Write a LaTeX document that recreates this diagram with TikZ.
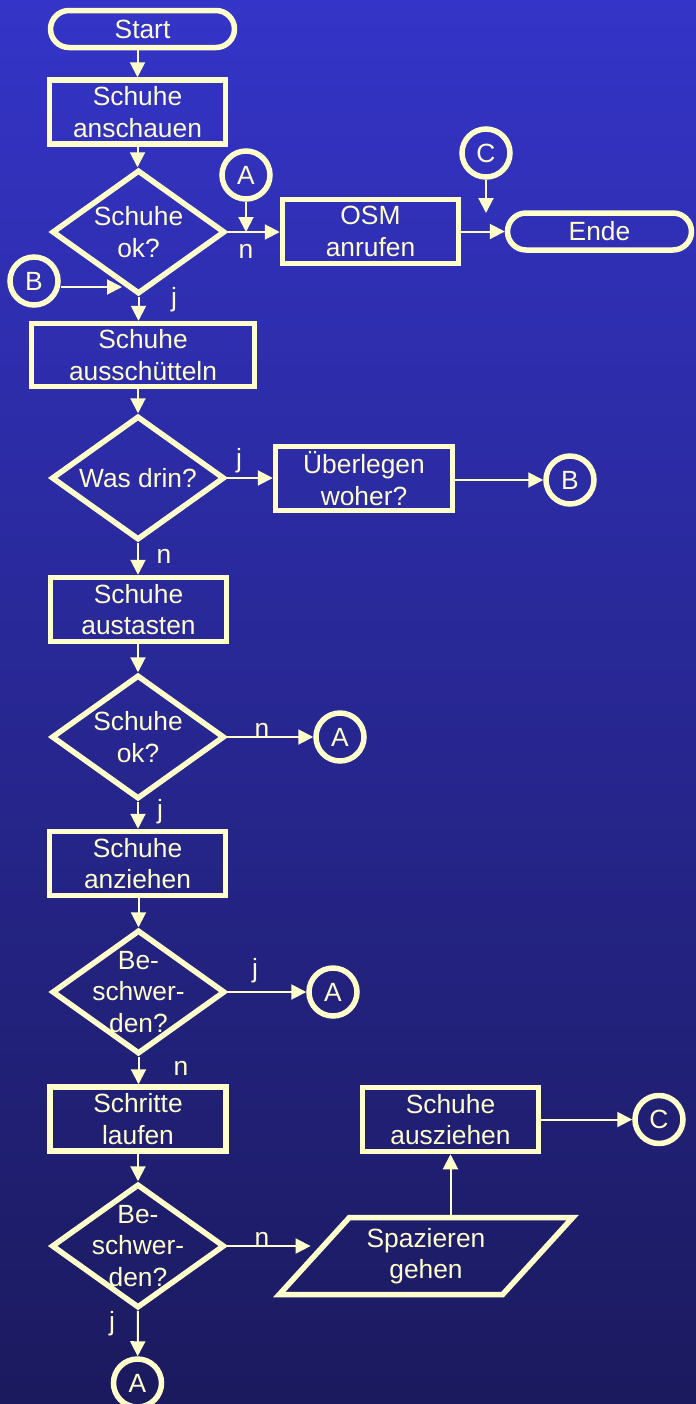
\documentclass[tikz,border=0pt]{standalone}
\usepackage{fontspec}
\setmainfont{Liberation Sans}
\usetikzlibrary{shapes.geometric,arrows.meta}

\definecolor{cream}{HTML}{FFFFCC}
\definecolor{bgtop}{HTML}{3434C8}
\definecolor{bgbot}{HTML}{1B1A5E}

\tikzset{
	chart/.style={draw=cream, line width=0.11cm, text=cream, font=\fontsize{15}{18}\selectfont, align=center, inner sep=0pt},
	terminal/.style={chart, rectangle, rounded corners=0.37cm, minimum width=3.68cm, minimum height=0.74cm},
	procbox/.style={chart, rectangle, minimum width=3.52cm, minimum height=1.28cm},
	decision/.style={chart, diamond, aspect=1.4, inner xsep=-0.1cm, inner ysep=-0.35cm, minimum width=3.46cm, minimum height=2.48cm},
	connector/.style={chart, circle, minimum size=0.96cm},
	iobox/.style={chart, trapezium, trapezium left angle=46, trapezium right angle=134, trapezium stretches=true, minimum width=5.88cm, minimum height=1.54cm},
	flow/.style={draw=cream, line width=0.04cm, -{Triangle[length=0.3cm,width=0.3cm]}},
	answer/.style={text=cream, font=\fontsize{15}{18}\selectfont, inner sep=0pt}
}

\begin{document}
\begin{tikzpicture}[x=0.02cm, y=-0.02cm]
	%%%%% START %%%%%
	
	\useasboundingbox (0, 0) rectangle (696, 1404);
	\shade[top color=bgtop, bottom color=bgbot] (0, 0) rectangle (696, 1404);
	
	\node[terminal] (start) at (142.5, 29) {Start};
	\node[procbox] (schau) at (137.5, 112) {Schuhe\\anschauen};
	\node[decision] (ok1) at (138.5, 232) {Schuhe\\ok?};
	\node[connector] (A1) at (246, 175) {A};
	\node[procbox] (osm) at (370.5, 231.5) {OSM\\anrufen};
	\node[connector] (C1) at (486, 153) {C};
	\node[terminal] (ende) at (599.5, 231.5) {Ende};
	\node[connector] (B1) at (34, 281) {B};
	\coordinate (c1end) at (486, 213);
	\coordinate (b1end) at (122, 287);
	
	\node[procbox, minimum width=4.46cm, minimum height=1.26cm] (schuett) at (143, 355) {Schuhe\\ausschütteln};
	\node[decision] (drin) at (138, 478) {Was drin?};
	\node[procbox, minimum width=3.54cm] (woher) at (364, 478.5) {Überlegen\\woher?};
	\node[connector] (B2) at (570, 480) {B};
	
	\node[procbox] (tast) at (138.5, 609.5) {Schuhe\\austasten};
	\node[decision] (ok2) at (138, 737) {Schuhe\\ok?};
	\node[connector] (A2) at (340, 737) {A};
	
	\node[procbox] (zieh) at (137.5, 863.5) {Schuhe\\anziehen};
	\node[decision] (besch1) at (138.5, 992) {Be-\\schwer-\\den?};
	\node[connector] (A3) at (333, 992) {A};
	
	\node[procbox] (lauf) at (138, 1119) {Schritte\\laufen};
	\node[decision] (besch2) at (138, 1246) {Be-\\schwer-\\den?};
	\node[iobox] (spaz) at (426, 1256) {Spazieren\\gehen};
	\node[procbox] (auszieh) at (450.5, 1119.5) {Schuhe\\ausziehen};
	\node[connector] (C2) at (659, 1119.5) {C};
	\node[connector] (A4) at (137.5, 1383) {A};
	
	% answers
	\node[answer] (n1) at (246, 251) {n};
	\node[answer] (j1) at (174, 300) {j};
	\node[answer] (j2) at (239, 461) {j};
	\node[answer] (n2) at (164, 556) {n};
	\node[answer] (n3) at (262, 730) {n};
	\node[answer] (j3) at (160, 812) {j};
	\node[answer] (j4) at (255, 971) {j};
	\node[answer] (n4) at (181, 1068) {n};
	\node[answer] (n5) at (262, 1239) {n};
	\node[answer] (j5) at (112, 1324) {j};
	
	% flow
	\draw[flow] (schau.north |- start.south) -- (schau.north);
	\draw[flow] (schau.south) -- (ok1.north -| schau.south);
	\draw[flow] (ok1.east) -- (osm.west |- ok1.east);
	\draw[flow] (A1) -- (A1 |- ok1.east);
	\draw[flow] (C1) -- (c1end);
	\draw[flow] (osm.east) -- (ende.west);
	\draw[flow] (B1.east |- b1end) -- (b1end);
	\draw[flow] (ok1.south) -- (ok1.south |- schuett.north);
	
	\draw[flow] (drin.north |- schuett.south) -- (drin.north);
	\draw[flow] (drin.east) -- (woher.west |- drin.east);
	\draw[flow] (woher.east |- B2) -- (B2);
	\draw[flow] (drin.south) -- (tast.north -| drin.south);
	
	\draw[flow] (tast.south -| ok2.north) -- (ok2.north);
	\draw[flow] (ok2.east) -- (A2);
	\draw[flow] (ok2.south) -- (zieh.north -| ok2.south);
	
	\draw[flow] (zieh.south -| besch1.north) -- (besch1.north);
	\draw[flow] (besch1.east) -- (A3);
	\draw[flow] (besch1.south) -- (lauf.north -| besch1.south);
	
	\draw[flow] (lauf.south) -- (besch2.north);
	\draw[flow] (besch2.east) -- (besch2.east -| spaz.west);
	\draw[flow] (besch2.south) -- (A4);
	\draw[flow] (auszieh.south |- spaz.north) -- (auszieh.south);
	\draw[flow] (auszieh.east) -- (C2);
	
	%%%%% END %%%%%
\end{tikzpicture}
\end{document}
